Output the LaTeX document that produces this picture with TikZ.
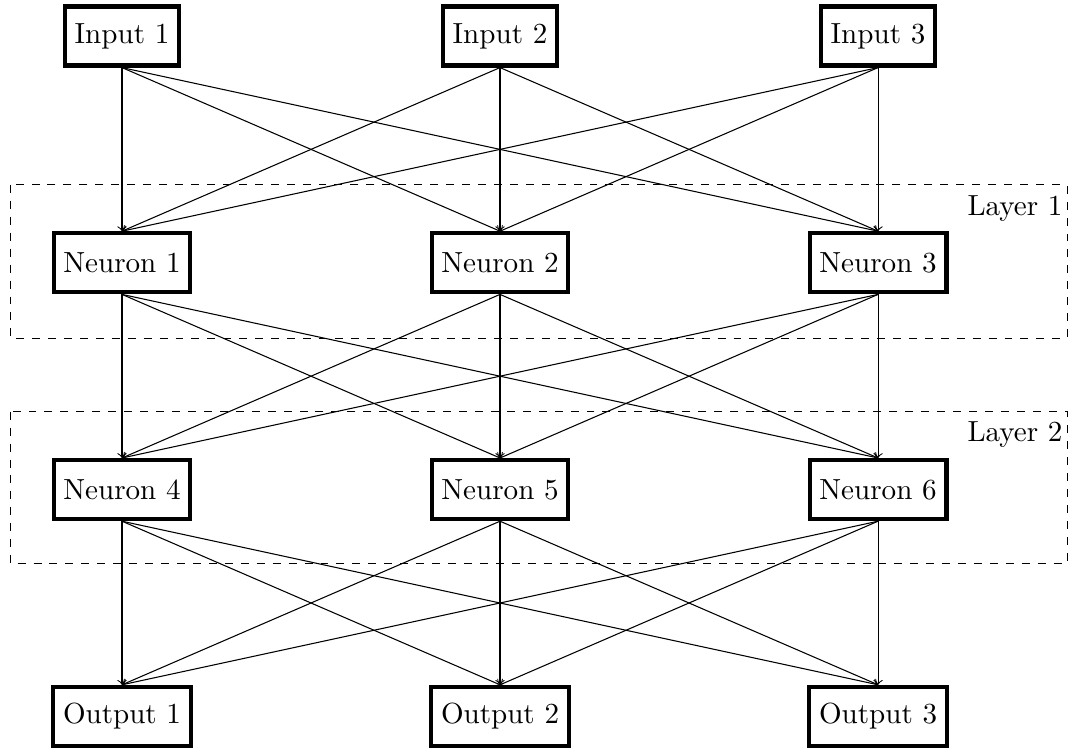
\documentclass[tikz,border=0pt,11pt]{standalone}
\usetikzlibrary{positioning}

\begin{document}
\begin{tikzpicture}[x=1cm,y=1cm,
    unit/.style={draw,ultra thick,minimum height=0.78cm},
    layerbox/.style={draw,dashed},
    layername/.style={anchor=north east,inner xsep=1.5pt}]
  \useasboundingbox (-1.614,0.476) rectangle (12.526,-9.405);
  % input row, two hidden layers, output row (5cm apart, 3cm between rows)
  \foreach \i in {1,2,3}{
    \node[unit] (in\i) at ({5*(\i-1)},0) {Input \i};
    \node[unit] (out\i) at ({5*(\i-1)},-9) {Output \i};
  }
  \foreach \i in {1,2,3}{
    \node[unit] (n\i) at ({5*(\i-1)},-3) {Neuron \i};
  }
  \foreach \i in {4,5,6}{
    \node[unit] (n\i) at ({5*(\i-4)},-6) {Neuron \i};
  }
  % dashed frames round the hidden layers
  \draw[layerbox] (-1.48,-1.97) rectangle (12.50,-4.0);
  \node[layername] (lay1) at (12.50,-1.97) {Layer 1};
  \draw[layerbox] (-1.48,-4.97) rectangle (12.50,-6.98);
  \node[layername] (lay2) at (12.50,-4.97) {Layer 2};
  % fully connected arrows
  \foreach \a in {1,2,3}{
    \foreach \b in {1,2,3}{
      \draw[->] (in\a.south) -- (n\b.north);
    }
  }
  \foreach \a in {1,2,3}{
    \foreach \b in {4,5,6}{
      \draw[->] (n\a.south) -- (n\b.north);
    }
  }
  \foreach \a in {4,5,6}{
    \foreach \b in {1,2,3}{
      \draw[->] (n\a.south) -- (out\b.north);
    }
  }
\end{tikzpicture}
\end{document}
